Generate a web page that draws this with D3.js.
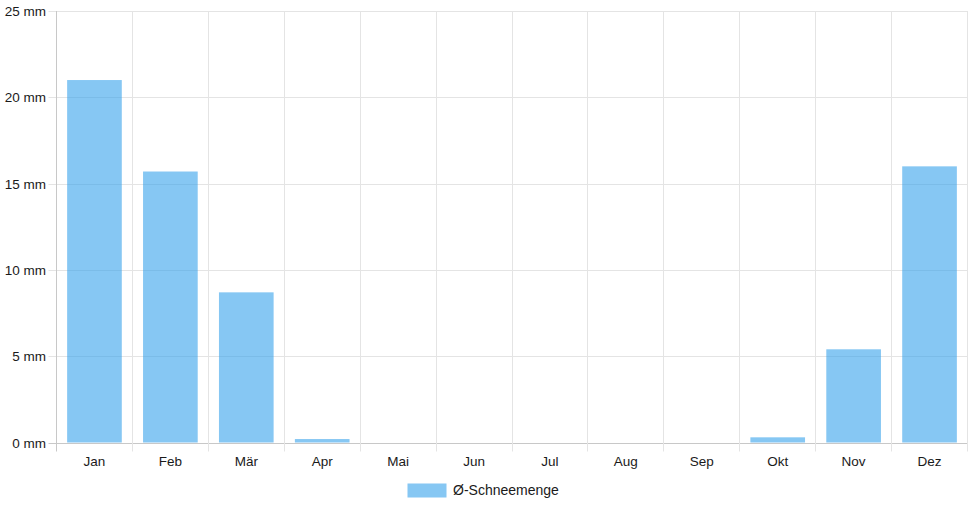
<!DOCTYPE html>
<html>
<head>
<meta charset="utf-8">
<script src="https://cdn.jsdelivr.net/npm/d3@7"></script>
<style>
  body { margin: 0; background: #fff; }
  text { font-family: "Liberation Sans", Arial, sans-serif; }
</style>
</head>
<body>
<svg id="chart"></svg>
<script>
// monthly average snowfall
const months = ["Jan", "Feb", "Mär", "Apr", "Mai", "Jun", "Jul", "Aug", "Sep", "Okt", "Nov", "Dez"];
const snow = [21.0, 15.7, 8.7, 0.2, 0, 0, 0, 0, 0, 0.3, 5.4, 16.0];
const yTicks = [0, 5, 10, 15, 20, 25];
const seriesName = "Ø-Schneemenge";

const width = 968, height = 508;
const margin = { top: 11, right: 0.5, bottom: 65.5, left: 56.5 };
const barColor = "rgba(54,162,235,0.6)";

const svg = d3.select("#chart")
  .attr("width", width)
  .attr("height", height);

const x = d3.scaleBand()
  .domain(months)
  .range([margin.left, width - margin.right])
  .paddingInner(0)
  .paddingOuter(0);

const y = d3.scaleLinear()
  .domain([0, 25])
  .range([height - margin.bottom, margin.top]);

// horizontal grid + y labels
svg.append("g")
  .selectAll("line")
  .data(yTicks)
  .enter()
  .append("line")
  .attr("x1", margin.left - 8)
  .attr("x2", width - margin.right)
  .attr("y1", d => Math.round(y(d)) + 0.5)
  .attr("y2", d => Math.round(y(d)) + 0.5)
  .attr("stroke", d => d === 0 ? "#c8c8c8" : "#e4e4e4")
  .attr("stroke-width", 1);

svg.append("g")
  .selectAll("text")
  .data(yTicks)
  .enter()
  .append("text")
  .attr("x", margin.left - 10.5)
  .attr("y", d => Math.round(y(d)) + 0.5)
  .attr("dy", "0.35em")
  .attr("text-anchor", "end")
  .attr("font-size", "13.5px")
  .attr("fill", "#1a1a1a")
  .text(d => d + " mm");

// vertical grid lines at category borders
const borders = months.map(m => x(m)).concat([x.range()[1]]);
svg.append("g")
  .selectAll("line")
  .data(borders)
  .enter()
  .append("line")
  .attr("x1", d => Math.round(d - 0.5) + 0.5)
  .attr("x2", d => Math.round(d - 0.5) + 0.5)
  .attr("y1", margin.top)
  .attr("y2", height - margin.bottom + 9)
  .attr("stroke", (d, i) => i === 0 ? "#c8c8c8" : "#e4e4e4")
  .attr("stroke-width", 1);

// bars: 0.9 * 0.8 of category width
const barW = x.bandwidth() * 0.72;
svg.append("g")
  .selectAll("rect")
  .data(snow)
  .enter()
  .append("rect")
  .attr("x", (d, i) => x(months[i]) + (x.bandwidth() - barW) / 2)
  .attr("width", barW)
  .attr("y", d => y(d))
  .attr("height", d => y(0) - y(d))
  .attr("fill", barColor);

// x labels
svg.append("g")
  .selectAll("text")
  .data(months)
  .enter()
  .append("text")
  .attr("x", d => x(d) + x.bandwidth() / 2)
  .attr("y", height - margin.bottom + 23)
  .attr("text-anchor", "middle")
  .attr("font-size", "13.5px")
  .attr("fill", "#1a1a1a")
  .text(d => d);

// legend
const legend = svg.append("g");
legend.append("rect")
  .attr("x", 407.5)
  .attr("y", 483.5)
  .attr("width", 39)
  .attr("height", 14)
  .attr("fill", barColor);
legend.append("text")
  .attr("x", 453)
  .attr("y", 495)
  .attr("font-size", "14px")
  .attr("fill", "#1a1a1a")
  .text(seriesName);
</script>
</body>
</html>
